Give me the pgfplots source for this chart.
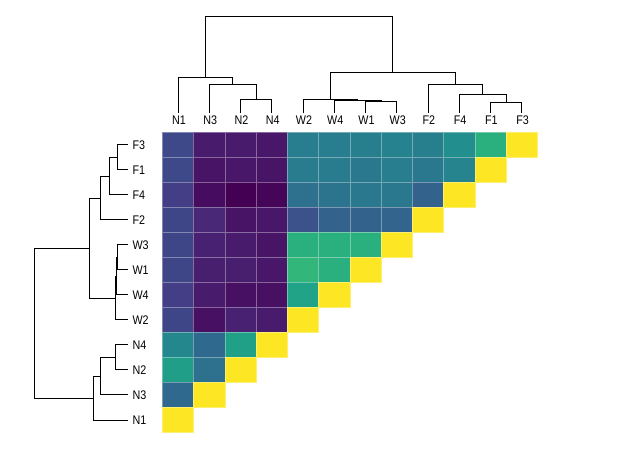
\documentclass[border=0pt]{standalone}
\usepackage{fontspec}
\setmainfont{Liberation Sans}[FakeStretch=0.86]
\usepackage{pgfplots}
\usepackage{pgfplotstable}
\pgfplotsset{compat=1.18}

% Leaf order (left to right / bottom to top):
% 0 N1, 1 N3, 2 N2, 3 N4, 4 W2, 5 W4, 6 W1, 7 W3, 8 F2, 9 F4, 10 F1, 11 F3
\pgfplotstableread{
pos h
2 0
2 0.14
3 0.14
3 0
nan nan
1 0
1 0.299
2.5 0.299
2.5 0.14
nan nan
0 0
0 0.369
1.75 0.369
1.75 0.299
nan nan
6 0
6 0.115
7 0.115
7 0
nan nan
5 0
5 0.129
6.5 0.129
6.5 0.115
nan nan
4 0
4 0.14
5.75 0.14
5.75 0.129
nan nan
10 0
10 0.111
11 0.111
11 0
nan nan
9 0
9 0.195
10.5 0.195
10.5 0.111
nan nan
8 0
8 0.299
9.75 0.299
9.75 0.195
nan nan
4.875 0.14
4.875 0.417
8.875 0.417
8.875 0.299
nan nan
0.875 0.369
0.875 1
6.875 1
6.875 0.417
}\dendro

% similarity matrix, lower triangle (col, row, value)
\pgfplotstableread{
c r v
0 11 0.22
1 11 0.07
2 11 0.07
3 11 0.06
4 11 0.42
5 11 0.42
6 11 0.43
7 11 0.44
8 11 0.43
9 11 0.49
10 11 0.63
11 11 1
0 10 0.22
1 10 0.05
2 10 0.06
3 10 0.05
4 10 0.41
5 10 0.41
6 10 0.40
7 10 0.42
8 10 0.40
9 10 0.45
10 10 1
0 9 0.18
1 9 0.03
2 9 0.00
3 9 0.01
4 9 0.37
5 9 0.38
6 9 0.40
7 9 0.40
8 9 0.31
9 9 1
0 8 0.21
1 8 0.11
2 8 0.05
3 8 0.06
4 8 0.25
5 8 0.31
6 8 0.31
7 8 0.32
8 8 1
0 7 0.21
1 7 0.09
2 7 0.07
3 7 0.05
4 7 0.63
5 7 0.63
6 7 0.63
7 7 1
0 6 0.21
1 6 0.08
2 6 0.08
3 6 0.06
4 6 0.66
5 6 0.63
6 6 1
0 5 0.18
1 5 0.07
2 5 0.04
3 5 0.04
4 5 0.58
5 5 1
0 4 0.21
1 4 0.04
2 4 0.09
3 4 0.07
4 4 1
0 3 0.46
1 3 0.34
2 3 0.57
3 3 1
0 2 0.56
1 2 0.37
2 2 1
0 1 0.34
1 1 1
0 0 1
}\simtab

\begin{document}
\begin{tikzpicture}
\path[use as bounding box] (0pt,0pt) rectangle (619pt,-449pt);

% heatmap
\begin{axis}[
  at={(162.3pt,-432.3pt)}, anchor=south west,
  x=31.25pt, y=25pt,
  xmin=-0.5, xmax=11.5, ymin=-0.5, ymax=11.5,
  hide axis, clip=false,
  colormap/viridis, point meta min=0, point meta max=1]
\addplot[scatter, only marks, mark=square*, mark size=12.5pt,
  scatter src=explicit,
  scatter/use mapped color={draw=mapped color!65!white, fill=mapped color},
  mark options={xscale=1.25, line width=0.6pt}]
  table[x=c, y=r, meta=v] {\simtab};
\end{axis}

% column dendrogram
\begin{axis}[
  at={(162.3pt,-112.7pt)}, anchor=south west,
  x=31.25pt, y=96pt,
  xmin=-0.5, xmax=11.5, ymin=0, ymax=1,
  axis line style={draw=none}, tick style={draw=none},
  ytick=\empty, xtick={0,...,11},
  xticklabels={N1,N3,N2,N4,W2,W4,W1,W3,F2,F4,F1,F3},
  xticklabel style={font=\fontsize{12.5}{13}\selectfont, xshift=1pt},
  unbounded coords=jump, clip=false]
\addplot[black, line width=0.6pt] table[x=pos, y=h] {\dendro};
\end{axis}

% row dendrogram
\begin{axis}[
  at={(34.3pt,-432.3pt)}, anchor=south west,
  x=93.7pt, y=25pt, x dir=reverse,
  xmin=0, xmax=1, ymin=-0.5, ymax=11.5,
  axis line style={draw=none}, tick style={draw=none},
  xtick=\empty, ytick={0,...,11}, yticklabel pos=right,
  yticklabels={N1,N3,N2,N4,W2,W4,W1,W3,F2,F4,F1,F3},
  yticklabel style={font=\fontsize{12.5}{13}\selectfont, anchor=west, xshift=1pt},
  unbounded coords=jump, clip=false]
\addplot[black, line width=0.6pt] table[x=h, y=pos] {\dendro};
\end{axis}
\end{tikzpicture}
\end{document}
